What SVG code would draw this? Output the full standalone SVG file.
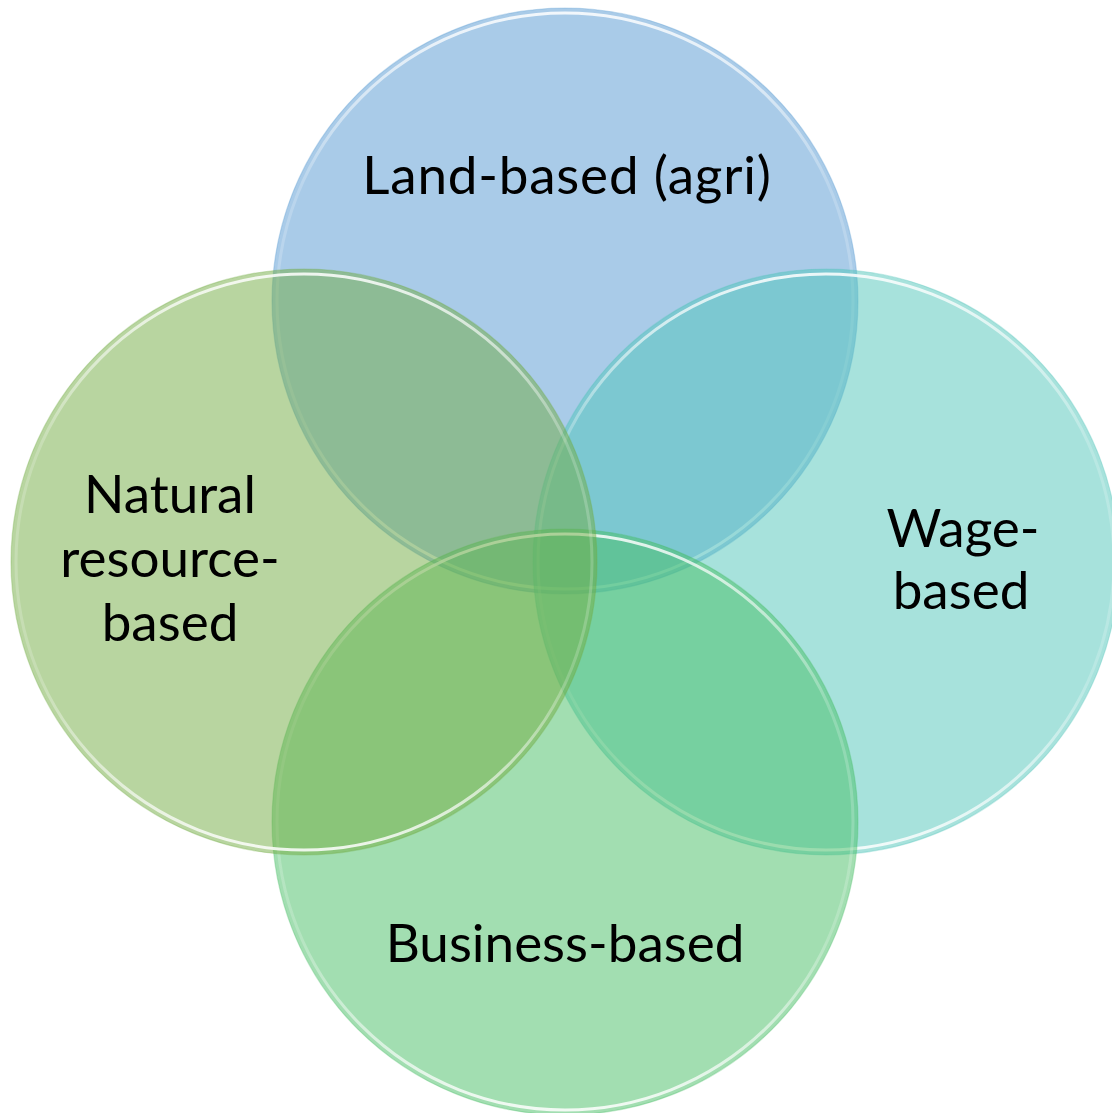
<svg xmlns="http://www.w3.org/2000/svg" width="1112" height="1113" viewBox="0 0 1112 1113">
  <defs>
    <!-- glossy rim: bright at top and bottom, faint at the sides -->
    <linearGradient id="rim" x1="0" y1="0" x2="0" y2="1">
      <stop offset="0" stop-color="#ffffff" stop-opacity="0.85"/>
      <stop offset="0.3" stop-color="#ffffff" stop-opacity="0.2"/>
      <stop offset="0.7" stop-color="#ffffff" stop-opacity="0.2"/>
      <stop offset="1" stop-color="#ffffff" stop-opacity="0.85"/>
    </linearGradient>
    <style>
      .disc { fill-opacity: 0.5; stroke-opacity: 0.3; stroke-width: 1.2; }
      .rim { fill: none; stroke: url(#rim); stroke-width: 3; }
      .label { font-family: Lato, "Liberation Sans", sans-serif; font-size: 53px; fill: #000; text-anchor: middle; }
    </style>
  </defs>
  <rect width="1112" height="1113" fill="#ffffff"/>

  <g id="node-land">
    <circle class="disc" cx="565" cy="301" r="293" fill="#5397D1" stroke="#5397D1"/>
    <circle class="rim" cx="565" cy="301" r="288"/>
  </g>
  <g id="node-wage">
    <circle class="disc" cx="826" cy="562" r="293" fill="#4FC5B9" stroke="#4FC5B9"/>
    <circle class="rim" cx="826" cy="562" r="288"/>
  </g>
  <g id="node-business">
    <circle class="disc" cx="565" cy="822" r="293" fill="#45BD63" stroke="#45BD63"/>
    <circle class="rim" cx="565" cy="822" r="288"/>
  </g>
  <g id="node-natural">
    <circle class="disc" cx="304" cy="562" r="293" fill="#71AB41" stroke="#71AB41"/>
    <circle class="rim" cx="304" cy="562" r="288"/>
  </g>

  <g id="labels">
    <text class="label" x="567" y="194" letter-spacing="0.8">Land-based (agri)</text>
    <text class="label" x="170" y="513">Natural</text>
    <text class="label" x="170" y="577">resource-</text>
    <text class="label" x="170" y="641">based</text>
    <text class="label" x="963" y="547">Wage-</text>
    <text class="label" x="961" y="609">based</text>
    <text class="label" x="565" y="962">Business-based</text>
  </g>
</svg>
